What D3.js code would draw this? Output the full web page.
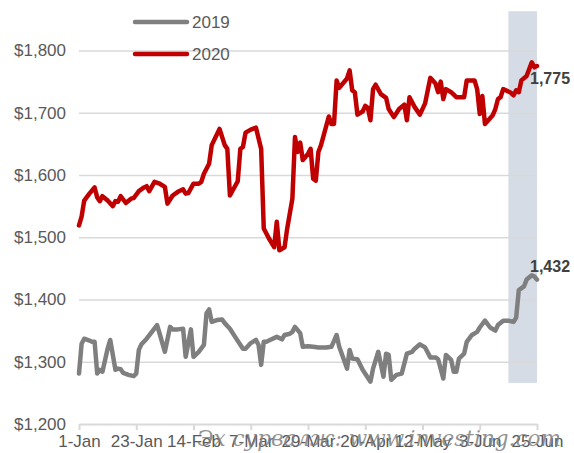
<!DOCTYPE html>
<html>
<head>
<meta charset="utf-8">
<script src="https://cdn.jsdelivr.net/npm/d3@7"></script>
<style>
  body { margin: 0; background: #fff; }
  svg { font-family: "Liberation Sans", Arial, sans-serif; }
</style>
</head>
<body>
<svg id="chart"></svg>
<script>
// days counted from 1-Jan, values in USD per ounce
var days2020 = [0,1,2,4,6,7,8,9,11,13,14,15,16,18,20,21,23,25,26,27,29,31,33,34,36,38,40,41,42,44,46,47,48,50,51,54,56,57,58,61,62,63,64,66,68,70,71,73,75,76,77,79,80,82,83,84,85,86,88,89,90,91,92,93,96,97,98,99,100,103,104,105,106,107,109,110,111,112,113,114,116,118,119,121,123,125,126,127,129,131,133,135,137,138,139,140,141,143,145,148,149,152,153,154,155,156,159,160,161,162,163,166,167,168,169,170,172,174,175,176];
var vals2020 = [1519,1533,1559,1570,1580,1564,1558,1566,1559,1550,1558,1557,1566,1555,1562,1563,1574,1580,1582,1574,1589,1586,1581,1554,1567,1573,1577,1570,1571,1586,1586,1589,1602,1618,1648,1674,1648,1642,1567,1590,1642,1645,1668,1673,1676,1642,1514,1498,1484,1525,1479,1484,1514,1562,1661,1637,1652,1624,1634,1642,1594,1591,1637,1648,1694,1682,1682,1752,1740,1755,1768,1736,1733,1697,1702,1711,1708,1688,1738,1745,1730,1724,1706,1693,1706,1713,1688,1725,1709,1697,1715,1756,1747,1733,1750,1722,1738,1733,1725,1725,1752,1752,1738,1698,1727,1682,1696,1706,1722,1725,1738,1732,1728,1736,1733,1752,1759,1781,1773,1775];

var days2019 = [0,1,2,4,5,6,7,8,9,11,12,14,15,16,17,19,21,22,23,24,26,28,30,31,33,35,36,38,40,41,43,44,46,48,49,50,51,53,55,56,58,60,63,64,66,68,69,70,71,72,74,76,78,79,81,82,83,85,86,88,90,92,95,97,99,100,103,104,105,107,109,112,113,115,117,118,119,120,122,124,126,128,129,131,133,135,137,138,140,141,143,144,145,146,148,149,151,153,154,156,158,160,161,163,165,167,168,169,171,172,174,175,176];
var vals2019 = [1281,1329,1337,1334,1332,1332,1281,1287,1284,1321,1335,1287,1289,1288,1282,1279,1277,1281,1319,1328,1337,1348,1359,1345,1316,1356,1352,1352,1353,1308,1352,1308,1316,1327,1378,1384,1364,1367,1368,1362,1353,1340,1321,1321,1330,1335,1327,1295,1332,1332,1336,1340,1336,1343,1345,1348,1356,1346,1324,1325,1324,1323,1323,1324,1343,1324,1289,1319,1305,1304,1287,1268,1289,1316,1276,1313,1311,1271,1279,1281,1313,1316,1321,1328,1323,1307,1307,1304,1273,1311,1303,1284,1284,1305,1313,1332,1343,1348,1355,1366,1355,1350,1359,1366,1366,1364,1371,1415,1421,1432,1439,1437,1432];

var seriesNames = ["2019", "2020"];
var seriesColors = ["#7f7f7f", "#c00000"];
var tickDays = [0, 22, 44, 66, 88, 110, 132, 154, 176];
var tickLabels = ["1-Jan", "23-Jan", "14-Feb", "7-Mar", "29-Mar", "20-Apr", "12-May", "3-Jun", "25-Jun"];
var yTicks = [1200, 1300, 1400, 1500, 1600, 1700, 1800];
var endLabels = ["1,432", "1,775"];
var band = { fromDay: 165, toDay: 176, low: 1266, high: 1863 };

var start = new Date(2020, 0, 1);
function toDate(d) { return d3.timeDay.offset(start, d); }

var svgWidth = 574, svgHeight = 453;
var margin = { top: 50.5, right: 37, bottom: 29, left: 79 };
var width = svgWidth - margin.left - margin.right;
var height = svgHeight - margin.top - margin.bottom;

var svg = d3.select("#chart")
  .attr("width", svgWidth)
  .attr("height", svgHeight);

var g = svg.append("g")
  .attr("transform", "translate(" + margin.left + "," + margin.top + ")");

var x = d3.scaleTime().domain([toDate(0), toDate(176)]).range([0, width]);
var y = d3.scaleLinear().domain([1200, 1800]).range([height, 0]);

// shaded recent period
g.append("rect")
  .attr("x", x(toDate(band.fromDay)))
  .attr("width", x(toDate(band.toDay)) - x(toDate(band.fromDay)))
  .attr("y", y(band.high))
  .attr("height", y(band.low) - y(band.high))
  .attr("fill", "#d6dce5");

// y axis + gridlines
var yAxis = g.append("g")
  .call(d3.axisLeft(y).tickValues(yTicks).tickSize(-width).tickPadding(13)
    .tickFormat(function(d) { return "$" + d3.format(",")(d); }));
yAxis.select(".domain").remove();
yAxis.selectAll("line").attr("stroke", "#d9d9d9").attr("stroke-width", 1.5)
  .filter(function(d) { return d === 1200; }).remove();
yAxis.selectAll("text").attr("fill", "#595959").style("font-size", "17px");

// x axis
var xAxis = g.append("g")
  .attr("transform", "translate(0," + height + ")")
  .call(d3.axisBottom(x).tickValues(tickDays.map(toDate)).tickSize(6).tickPadding(5)
    .tickSizeOuter(0)
    .tickFormat(function(d, i) { return tickLabels[i]; }));
xAxis.select(".domain").attr("stroke", "#d9d9d9").attr("stroke-width", 2);
xAxis.selectAll("line").attr("stroke", "#d9d9d9").attr("stroke-width", 2);
xAxis.selectAll("text").attr("fill", "#595959").style("font-size", "17px");

// lines
var line = d3.line()
  .x(function(d) { return x(toDate(d.day)); })
  .y(function(d) { return y(d.value); });

var series = [
  days2019.map(function(d, i) { return { day: d, value: vals2019[i] }; }),
  days2020.map(function(d, i) { return { day: d, value: vals2020[i] }; })
];

series.forEach(function(data, i) {
  g.append("path")
    .datum(data)
    .attr("fill", "none")
    .attr("stroke", seriesColors[i])
    .attr("stroke-width", 4.5)
    .attr("stroke-linejoin", "round")
    .attr("stroke-linecap", "round")
    .attr("d", line);

  var last = data[data.length - 1];
  g.append("text")
    .attr("x", x(toDate(last.day)) - 7)
    .attr("y", y(last.value) + (i === 0 ? -8 : 18))
    .attr("fill", "#404040")
    .style("font-size", "16px")
    .style("font-weight", "bold")
    .text(endLabels[i]);
});

// legend
var legend = svg.append("g").attr("transform", "translate(135,22)");
seriesNames.forEach(function(name, i) {
  var row = legend.append("g").attr("transform", "translate(0," + (i * 32) + ")");
  row.append("line")
    .attr("x1", 0).attr("x2", 52)
    .attr("stroke", seriesColors[i])
    .attr("stroke-width", 4.5)
    .attr("stroke-linecap", "round");
  row.append("text")
    .attr("x", 57).attr("y", 6)
    .attr("fill", "#595959")
    .style("font-size", "17px")
    .text(name);
});

// source watermark
svg.append("text")
  .attr("x", 197)
  .attr("y", 446)
  .attr("textLength", 364)
  .attr("lengthAdjust", "spacingAndGlyphs")
  .attr("fill", "#7f7f7f")
  .attr("fill-opacity", 0.85)
  .style("font-family", "'DejaVu Serif', 'Liberation Serif', serif")
  .style("font-style", "italic")
  .style("font-size", "22px")
  .text("Эх сурвалж: www.investing.com");
</script>
</body>
</html>
